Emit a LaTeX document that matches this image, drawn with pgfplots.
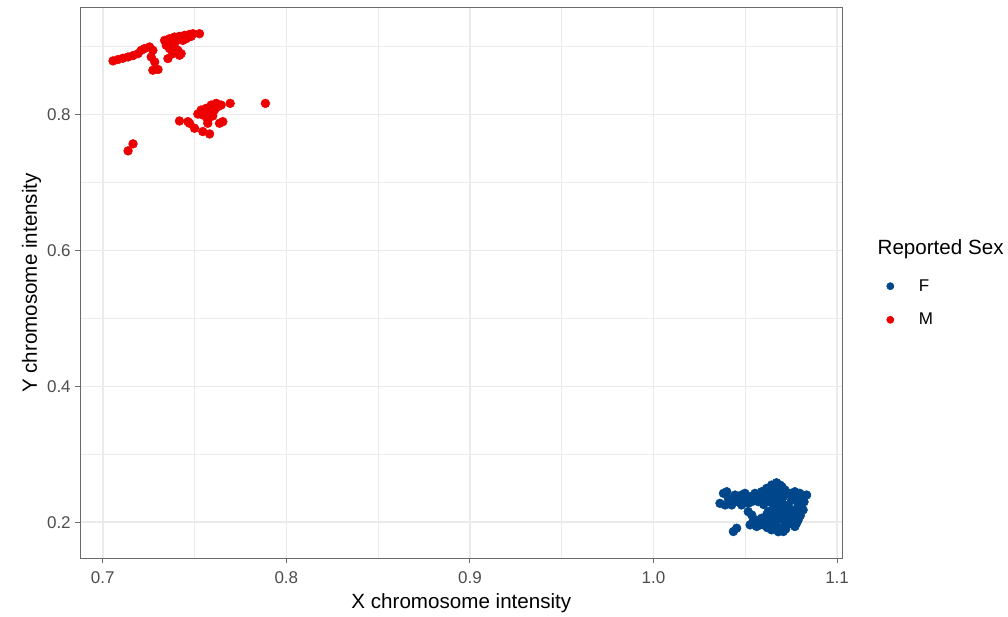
\documentclass[border=0pt]{standalone}
\usepackage{fontspec}
\setmainfont{Liberation Sans}
\usepackage{pgfplots}
\pgfplotsset{compat=1.18}
\definecolor{lancetblue}{HTML}{00468B}
\definecolor{lancetred}{HTML}{ED0000}
\definecolor{grid92}{HTML}{EBEBEB}
\definecolor{grey20}{HTML}{333333}
\definecolor{grey30}{HTML}{4D4D4D}
\definecolor{border}{HTML}{6A6A6A}
\begin{document}
\begin{tikzpicture}
\begin{axis}[
  scale only axis, width=573pt, height=414pt,
  xmin=0.688, xmax=1.1027, ymin=0.1473, ymax=0.9568,
  clip=false,
  xtick={0.7,0.8,0.9,1.0,1.1}, xticklabels={0.7,0.8,0.9,1.0,1.1},
  ytick={0.2,0.4,0.6,0.8}, yticklabels={0.2,0.4,0.6,0.8},
  minor xtick={0.75,0.85,0.95,1.05}, minor ytick={0.3,0.5,0.7,0.9},
  grid=both,
  major grid style={grid92, line width=1.2pt},
  minor grid style={grid92, line width=0.6pt},
  tick pos=left, tick align=outside,
  major tick length=4pt, minor tick length=0pt,
  tick style={border, line width=0.8pt},
  axis line style={border, line width=0.8pt},
  ticklabel style={font=\fontsize{12.8}{15}\selectfont, color=grey30},
  xticklabel style={yshift=-3pt},
  /pgf/number format/assume math mode=true,
  xlabel={X chromosome intensity},
  ylabel={Y chromosome intensity},
  label style={font=\fontsize{15.5}{18}\selectfont, color=black},
  xlabel style={at={(axis description cs:0.5,-0.0815)}, anchor=center},
  ylabel style={at={(axis description cs:-0.0645,0.5)}, anchor=center},
  legend style={at={(axis description cs:1.058,0.512)}, anchor=north west,
    draw=none, fill=none, inner sep=0pt, row sep=11pt,
    font=\fontsize{12.8}{15}\selectfont},
  legend cell align=left,
  /tikz/every odd column/.append style={column sep=16.5pt},
  legend image code/.code={\fill[#1] (6pt,0pt) circle (2.7pt);},
]
\addplot[only marks, mark=*, color=lancetblue, mark size=3.3pt] table {
x y
1.0362 0.2278
1.0381 0.2425
1.0399 0.2449
1.0417 0.2327
1.0444 0.2400
1.0471 0.2376
1.0498 0.2425
1.0526 0.2376
1.0553 0.2425
1.0589 0.2449
1.0616 0.2498
1.0643 0.2547
1.0670 0.2581
1.0689 0.2547
1.0716 0.2474
1.0743 0.2425
1.0770 0.2449
1.0797 0.2425
1.0834 0.2400
1.0752 0.2327
1.0788 0.2254
1.0815 0.2181
1.0734 0.2254
1.0698 0.2303
1.0661 0.2352
1.0625 0.2303
1.0571 0.2303
1.0516 0.2278
1.0480 0.2254
1.0426 0.2254
1.0390 0.2254
1.0526 0.1961
1.0553 0.1985
1.0580 0.1961
1.0607 0.2010
1.0634 0.1937
1.0661 0.1985
1.0689 0.1912
1.0716 0.1961
1.0743 0.1985
1.0770 0.1937
1.0788 0.2034
1.0761 0.2107
1.0725 0.2083
1.0689 0.2107
1.0652 0.2083
1.0616 0.2107
1.0589 0.2059
1.0562 0.1937
1.0643 0.1888
1.0707 0.1863
1.0670 0.2010
1.0625 0.2034
1.0652 0.2205
1.0679 0.2181
1.0707 0.2156
1.0661 0.2132
1.0625 0.2156
1.0516 0.2156
1.0535 0.2107
1.0435 0.1863
1.0453 0.1912
1.0598 0.2376
1.0643 0.2425
1.0679 0.2449
1.0707 0.2376
1.0571 0.2376
1.0535 0.2303
1.0725 0.2181
1.0770 0.2181
1.0806 0.2327
1.0652 0.2278
1.0689 0.2230
1.0734 0.2034
1.0779 0.1985
1.0408 0.2350
1.0460 0.2300
1.0500 0.2350
1.0550 0.2330
1.0600 0.2260
1.0630 0.2400
1.0660 0.2480
1.0700 0.2520
1.0720 0.2420
1.0760 0.2380
1.0790 0.2330
1.0820 0.2300
1.0690 0.2400
1.0650 0.2330
1.0580 0.2410
1.0440 0.2330
1.0480 0.2400
1.0600 0.1960
1.0650 0.1960
1.0700 0.2050
1.0750 0.2040
1.0720 0.1900
1.0680 0.1860
1.0620 0.1920
1.0660 0.2070
1.0760 0.2000
1.0800 0.2100
1.0560 0.2030
1.0540 0.2000
};
\addlegendentry{F}
\addplot[only marks, mark=*, color=lancetred, mark size=3.3pt] table {
x y
0.7056 0.8789
0.7083 0.8809
0.7110 0.8828
0.7138 0.8847
0.7165 0.8867
0.7192 0.8896
0.7210 0.8945
0.7228 0.8970
0.7255 0.8994
0.7273 0.8945
0.7264 0.8847
0.7283 0.8774
0.7301 0.8662
0.7273 0.8652
0.7337 0.9091
0.7364 0.9116
0.7391 0.9140
0.7418 0.9150
0.7446 0.9165
0.7473 0.9179
0.7491 0.9189
0.7527 0.9189
0.7346 0.9018
0.7364 0.8970
0.7382 0.8896
0.7355 0.8823
0.7409 0.8945
0.7427 0.8896
0.7418 0.8872
0.7391 0.9043
0.7436 0.9091
0.7455 0.9116
0.7400 0.9091
0.7373 0.9067
0.7464 0.9140
0.7482 0.9150
0.7886 0.8164
0.7694 0.8164
0.7618 0.8164
0.7591 0.8139
0.7563 0.8091
0.7536 0.8066
0.7518 0.8007
0.7545 0.7993
0.7582 0.8042
0.7609 0.8066
0.7627 0.8115
0.7645 0.8139
0.7599 0.7978
0.7572 0.7919
0.7572 0.7871
0.7654 0.7895
0.7636 0.7871
0.7418 0.7905
0.7464 0.7895
0.7473 0.7871
0.7500 0.7798
0.7545 0.7749
0.7582 0.7714
0.7165 0.7568
0.7138 0.7465
0.7554 0.8042
};
\addlegendentry{M}
\node[anchor=base west, font=\fontsize{15.5}{18}\selectfont] at (rel axis cs:1.0406,0.5525) {Reported Sex};
\end{axis}
\path[use as bounding box] (-60.75pt,-42pt) rectangle (695.25pt,420pt);
\end{tikzpicture}
\end{document}
